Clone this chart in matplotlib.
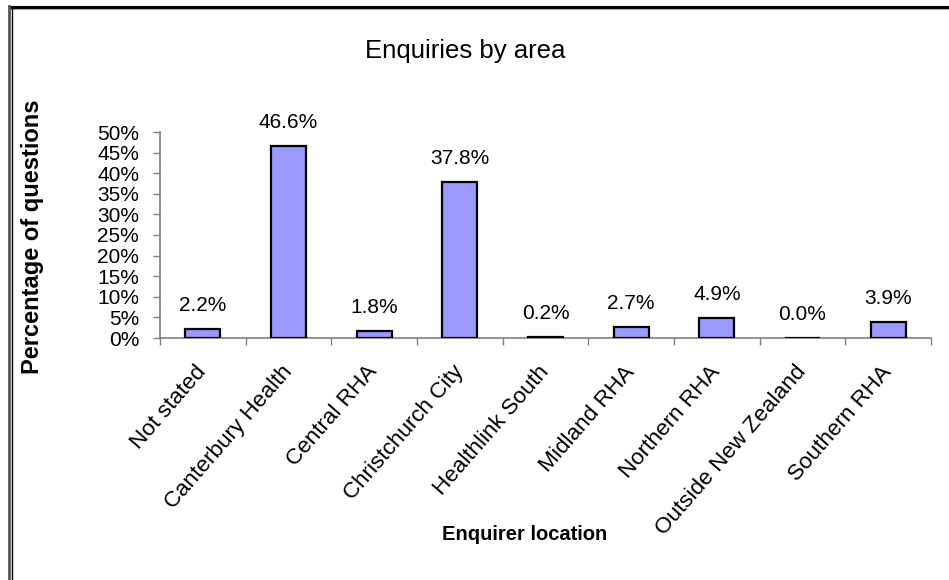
import matplotlib
matplotlib.use("Agg")
import matplotlib.pyplot as plt
from matplotlib.lines import Line2D
from matplotlib.ticker import FuncFormatter, MultipleLocator
import numpy as np

categories = ["Not stated", "Canterbury Health", "Central RHA", "Christchurch City",
              "Healthlink South", "Midland RHA", "Northern RHA", "Outside New Zealand",
              "Southern RHA"]
values = [2.2, 46.6, 1.8, 37.8, 0.2, 2.7, 4.9, 0.0, 3.9]
title = "Enquiries by area"
xlabel = "Enquirer location"
ylabel = "Percentage of questions"

plt.rcParams['font.family'] = ['Liberation Sans', 'DejaVu Sans']

W, H = 949, 580
fig = plt.figure(figsize=(W/100, H/100), dpi=100)
ax = fig.add_axes([160/W, 1-338/H, (931-160)/W, (338-132)/H])

x = np.arange(len(categories))
ax.bar(x, values, width=0.41, color='#9999FF', edgecolor='black', linewidth=1.6, zorder=3)

ax.set_xlim(-0.5, len(categories)-0.5)
ax.set_ylim(0, 50)
ax.yaxis.set_major_locator(MultipleLocator(5))
ax.yaxis.set_major_formatter(FuncFormatter(lambda v, p: f"{v:.0f}%"))

for s in ['top', 'right']:
    ax.spines[s].set_visible(False)
for s in ['left', 'bottom']:
    ax.spines[s].set_color('#808080')
    ax.spines[s].set_linewidth(1.2)

# category boundary ticks
ax.set_xticks(np.arange(len(categories)+1)-0.5, minor=False)
ax.set_xticklabels([])
ax.tick_params(axis='x', which='major', direction='out', length=5, width=1, color='#808080')
ax.set_xticks(x, minor=True)
ax.set_xticklabels(categories, minor=True, rotation=49, ha='right', va='center',
                   rotation_mode='anchor', fontsize=16.2)
ax.tick_params(axis='x', which='minor', length=0, pad=22)
ax.tick_params(axis='y', direction='out', length=5, width=1, color='#808080',
               labelsize=15, pad=10)

for xi, v in zip(x, values):
    ax.annotate(f"{v:.1f}%", (xi, v), xytext=(0, 10), textcoords='offset points',
                ha='center', va='bottom', fontsize=15)

fig.text(465/W, 1-51/H, title, ha='center', va='center', fontsize=18.5)
fig.text(525/W, 1-534/H, xlabel, ha='center', va='center', fontsize=14.5, fontweight='bold')
fig.text(33/W, 1-237/H, ylabel, ha='center', va='center', fontsize=17,
         fontweight='bold', rotation=90)

# border
fig.add_artist(Line2D([11/W, 1], [1-7/H, 1-7/H], color='black', linewidth=2.2, transform=fig.transFigure))
fig.add_artist(Line2D([11/W, 1], [1-9/H, 1-9/H], color='#aaaaaa', linewidth=0.8, transform=fig.transFigure))
fig.add_artist(Line2D([9/W, 9/W], [0, 1-6/H], color='#555555', linewidth=2.0, transform=fig.transFigure))
fig.add_artist(Line2D([11.5/W, 11.5/W], [0, 1-7/H], color='black', linewidth=1.0, transform=fig.transFigure))

fig.savefig("out.png", dpi=100)
